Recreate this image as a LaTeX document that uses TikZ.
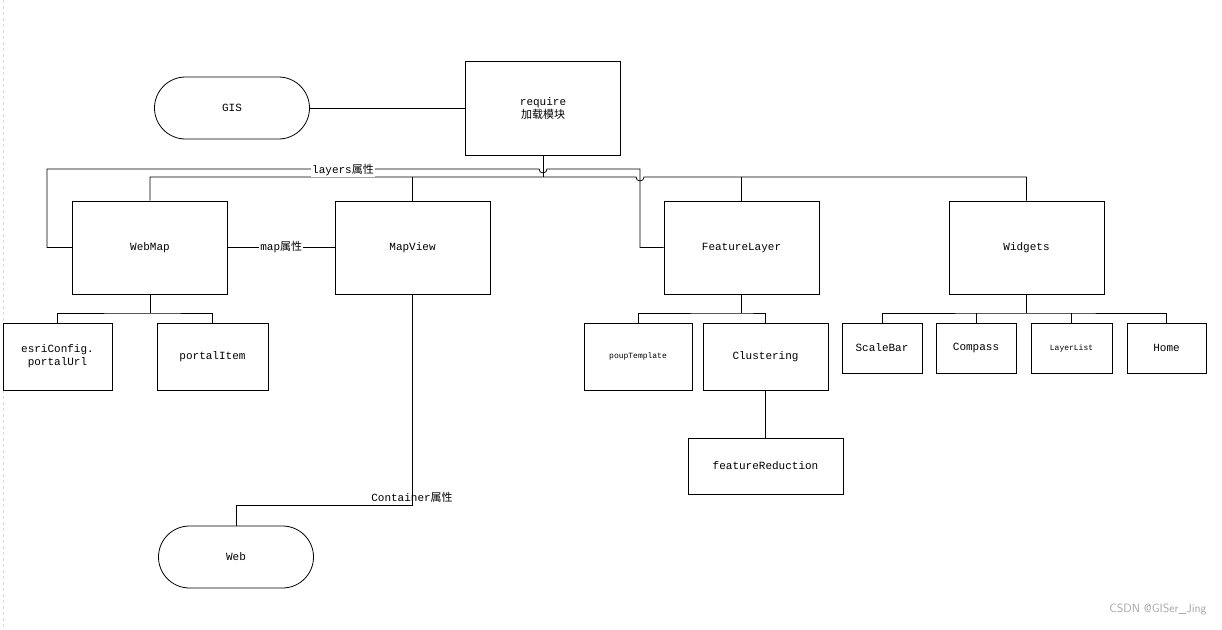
\documentclass[tikz,border=0pt]{standalone}
\usepackage{fontspec}
\setmainfont{Liberation Mono}
\newfontfamily\cjk{Noto Sans CJK SC}
\begin{document}
\begin{tikzpicture}[x=1pt,y=-1pt,
  box/.style={draw,thick,inner sep=0pt,font=\fontsize{11}{13}\selectfont,align=center},
  pill/.style={draw,thick,rounded corners=31pt,minimum width=155pt,minimum height=62pt,font=\fontsize{11}{13}\selectfont},
  ln/.style={thick},
  lbl/.style={fill=white,inner sep=1pt,font=\fontsize{11}{13}\selectfont}]
\useasboundingbox (0,0) rectangle (1222,629);
\draw[gray!30,dashed] (3,0) -- (3,629);
% boxes
\node[pill] (gis) at (232,108) {GIS};
\node[pill] (web) at (236,557) {Web};
\node[box,minimum width=155pt,minimum height=94pt] (req) at (543,108) {require\\{\cjk 加载模块}};
\node[box,minimum width=155pt,minimum height=93pt] (wm) at (150,247.5) {WebMap};
\node[box,minimum width=155pt,minimum height=93pt] (mv) at (412.5,247.5) {MapView};
\node[box,minimum width=155pt,minimum height=93pt] (fl) at (741.5,247.5) {FeatureLayer};
\node[box,minimum width=155pt,minimum height=93pt] (wg) at (1026.5,247.5) {Widgets};
\node[box,minimum width=109pt,minimum height=67pt] (ec) at (57.5,356.5) {esriConfig.\\portalUrl};
\node[box,minimum width=111pt,minimum height=67pt] (pi) at (212.5,356.5) {portalItem};
\node[box,minimum width=108pt,minimum height=67pt,font=\fontsize{8}{10}\selectfont] (pt) at (638,356.5) {poupTemplate};
\node[box,minimum width=125pt,minimum height=67pt] (cl) at (765.5,356.5) {Clustering};
\node[box,minimum width=155pt,minimum height=56pt] (fr) at (765.5,466) {featureReduction};
\node[box,minimum width=80pt,minimum height=50pt] (sb) at (882,348) {ScaleBar};
\node[box,minimum width=80pt,minimum height=50pt] (cp) at (976,348) {Compass};
\node[box,minimum width=81pt,minimum height=50pt,font=\fontsize{8}{10}\selectfont] (ll) at (1071.5,348) {LayerList};
\node[box,minimum width=79pt,minimum height=50pt] (hm) at (1166.5,348) {Home};
% connectors
\draw[ln] (gis.east) -- (req.west |- gis.east);
\draw[ln] (req.south) -- (543,177);
\draw[ln] (wm.north) |- (636,177) arc (180:0:4) -- (1026.5,177) -- (wg.north);
\draw[ln] (mv.north) -- (412.5,177);
\draw[ln] (fl.north) -- (741.5,177);
\draw[ln] (wm.west) -- (47,247.5) -- (47,169) -- (539,169) arc (180:0:4) -- (640,169) -- (640,247.5) -- (fl.west);
\node[lbl] (lay) at (343,170) {layers{\cjk 属性}};
\draw[ln] (wm.east) -- node[lbl] (mp) {map{\cjk 属性}} (mv.west);
\draw[ln] (wm.south) -- (150,313) coordinate (wmj);
\draw[ln] (ec.north) |- (wmj) -| (pi.north);
\draw[ln] (fl.south) -- (741.5,313) coordinate (flj);
\draw[ln] (pt.north) |- (flj) -| (cl.north);
\draw[ln] (cl.south) -- (fr.north);
\draw[ln] (wg.south) -- (1026.5,313) coordinate (wgj);
\draw[ln] (sb.north) |- (wgj) -| (hm.north);
\draw[ln] (cp.north) -- (cp.north |- wgj);
\draw[ln] (ll.north) -- (ll.north |- wgj);
\draw[ln] (mv.south) -- (412.5,505) -| (web.north);
\node[lbl,fill=none] (ct) at (412,497) {Container{\cjk 属性}};
\node[font=\fontsize{12}{14}\selectfont\sffamily,text=gray!70,anchor=east] (wmk) at (1210,609) {CSDN @GISer\_Jing};
\end{tikzpicture}
\end{document}
